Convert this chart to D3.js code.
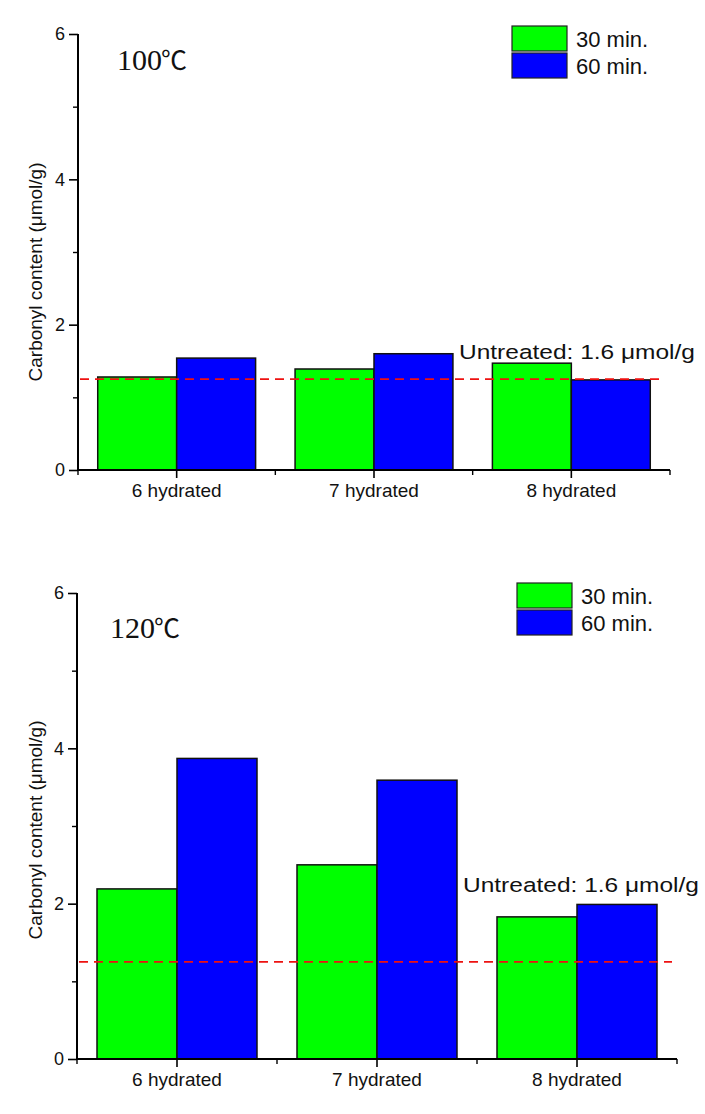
<!DOCTYPE html>
<html><head><meta charset="utf-8">
<script src="https://cdn.jsdelivr.net/npm/d3@7"></script>
<style>body{margin:0;background:#fff}svg{display:block}</style>
</head><body>
<svg id="c" width="705" height="1114"></svg>
<script>
const categories = ["6 hydrated", "7 hydrated", "8 hydrated"];
const seriesNames = ["30 min.", "60 min."];
const values100_30 = [1.28, 1.39, 1.47];
const values100_60 = [1.54, 1.60, 1.24];
const values120_30 = [2.19, 2.50, 1.83];
const values120_60 = [3.87, 3.59, 1.99];
const untreatedLevel = 1.25;
const untreatedLabel = "Untreated: 1.6 \u03BCmol/g";
const yTicks = [0, 2, 4, 6];
const yMinorTicks = [1, 3, 5];
const titleNumbers = ["100", "120"];
const titleUnit = "\u2103";
const colors = ["#00ff00", "#0000ff"];

const svg = d3.select("#c");
const SANS = "Liberation Sans, Arial, sans-serif";

function drawPanel(cfg) {
  const g = svg.append("g");
  const x = d3.scaleBand().domain(categories).range([cfg.x0, cfg.x1]).paddingInner(0.2).paddingOuter(0.1);
  const xc = d3.scaleBand().domain(categories).range([cfg.x0, cfg.x1]).padding(0);
  const y = d3.scaleLinear().domain([0, 6]).range([cfg.y0, cfg.y1]);
  const sub = d3.scaleBand().domain(seriesNames).range([0, x.bandwidth()]);
  const rows = categories.map((c, i) => ({c, v: [cfg.s30[i], cfg.s60[i]]}));

  rows.forEach(r => {
    r.v.forEach((v, j) => {
      g.append("rect")
        .attr("x", x(r.c) + sub(seriesNames[j]))
        .attr("y", y(v))
        .attr("width", sub.bandwidth())
        .attr("height", y(0) - y(v))
        .attr("fill", colors[j])
        .attr("stroke", "#111").attr("stroke-width", 1.5);
    });
  });

  g.append("line")
    .attr("x1", cfg.x0 + 2).attr("x2", cfg.lineEnd)
    .attr("y1", y(untreatedLevel)).attr("y2", y(untreatedLevel))
    .attr("stroke", "#ee1111").attr("stroke-width", 1.8)
    .attr("stroke-dasharray", "9,6");

  const ya = g.append("g").attr("transform", `translate(${cfg.x0},0)`)
    .call(d3.axisLeft(y).tickValues(yTicks).tickFormat(d3.format("d")).tickSize(9).tickPadding(4));
  ya.select(".domain").attr("stroke", "#000").attr("stroke-width", 2).attr("d", `M0,${cfg.y1}V${cfg.y0}`);
  ya.selectAll(".tick line").attr("stroke", "#000").attr("stroke-width", 1.6);
  ya.selectAll(".tick text").attr("font-family", SANS).attr("font-size", 18).attr("fill", "#111");
  g.append("g").attr("transform", `translate(${cfg.x0},0)`)
    .call(d3.axisLeft(y).tickValues(yMinorTicks).tickFormat("").tickSize(5))
    .call(s => { s.select(".domain").remove(); s.selectAll(".tick line").attr("stroke", "#000").attr("stroke-width", 1.4); });

  const xa = g.append("g").attr("transform", `translate(0,${cfg.y0})`)
    .call(d3.axisBottom(xc).tickSize(8).tickPadding(6));
  xa.select(".domain").attr("stroke", "#000").attr("stroke-width", 2).attr("d", `M${cfg.x0},0H${cfg.x1}`);
  xa.selectAll(".tick line").attr("stroke", "#000").attr("stroke-width", 1.6);
  xa.selectAll(".tick text").attr("font-family", SANS).attr("font-size", 19).attr("fill", "#111");
  const bounds = categories.map(c => xc(c)).concat([cfg.x1]);
  g.selectAll(null).data(bounds).enter().append("line")
    .attr("x1", d => d).attr("x2", d => d)
    .attr("y1", cfg.y0).attr("y2", cfg.y0 + 5)
    .attr("stroke", "#000").attr("stroke-width", 1.4);

  g.append("text")
    .attr("transform", `translate(${cfg.ylabX},${cfg.ylabY}) rotate(-90)`)
    .attr("text-anchor", "middle")
    .attr("font-family", SANS).attr("font-size", 19).attr("fill", "#111")
    .text("Carbonyl content (\u03BCmol/g)");

  const t = g.append("text").attr("x", cfg.titleX).attr("y", cfg.titleY)
    .attr("font-size", 30).attr("fill", "#111");
  t.append("tspan").attr("font-family", "Liberation Serif, 'Times New Roman', serif").text(cfg.titleNum);
  t.append("tspan").attr("font-family", "Noto Sans CJK SC, serif").attr("font-size", 26).attr("dx", -1).text(titleUnit);

  g.append("text").attr("x", cfg.untX).attr("y", cfg.untY)
    .attr("font-family", SANS).attr("font-size", 20.5).attr("fill", "#111")
    .attr("textLength", 236).attr("lengthAdjust", "spacingAndGlyphs")
    .text(untreatedLabel);

  seriesNames.forEach((s, j) => {
    g.append("rect").attr("x", cfg.legX).attr("y", cfg.legY + j * 27)
      .attr("width", 55).attr("height", 25)
      .attr("fill", colors[j]).attr("stroke", "#222").attr("stroke-width", 1.2);
    g.append("text").attr("x", cfg.legX + 64).attr("y", cfg.legY + j * 27 + 21)
      .attr("font-family", SANS).attr("font-size", 22).attr("fill", "#111")
      .text(s);
  });
}

drawPanel({x0: 78, x1: 670, y0: 470, y1: 34, s30: values100_30, s60: values100_60, lineEnd: 665,
  ylabX: 42, ylabY: 272, titleNum: titleNumbers[0], titleX: 117, titleY: 70, untX: 459, untY: 359, legX: 512, legY: 26});
drawPanel({x0: 77, x1: 677, y0: 1059, y1: 593, s30: values120_30, s60: values120_60, lineEnd: 672,
  ylabX: 42, ylabY: 830, titleNum: titleNumbers[1], titleX: 110, titleY: 638, untX: 463, untY: 892, legX: 517, legY: 583});
</script>
</body></html>
